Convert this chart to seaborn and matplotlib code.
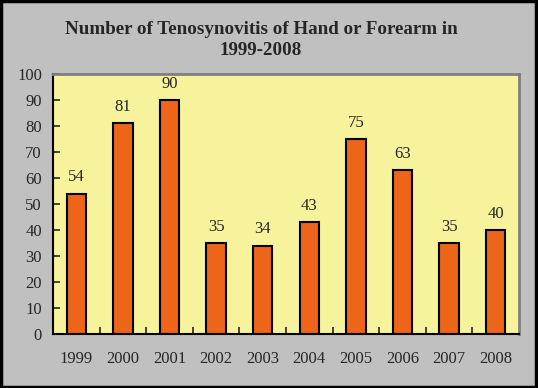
import pandas as pd
import matplotlib.pyplot as plt
import seaborn as sns

years = ['1999', '2000', '2001', '2002', '2003', '2004', '2005', '2006', '2007', '2008']
cases = [54, 81, 90, 35, 34, 43, 75, 63, 35, 40]

BG = '#C0C0C0'
PLOT_BG = '#F6F39C'
BAR = '#EC6519'


def main():
    sns.set_style('white')
    plt.rcParams['font.family'] = ['Liberation Serif', 'DejaVu Serif']

    df = pd.DataFrame({'Year': years, 'Cases': cases})

    fig = plt.figure(figsize=(5.38, 3.88), dpi=100, facecolor=BG)
    ax = fig.add_axes([53 / 538, 1 - 334 / 388, 466 / 538, 260 / 388])
    ax.set_facecolor(PLOT_BG)

    sns.barplot(data=df, x='Year', y='Cases', color=BAR, width=0.42,
                edgecolor='black', linewidth=1.5, saturation=1, ax=ax)

    # value labels above each bar
    ax.bar_label(ax.containers[0], fmt='%d', padding=6, fontsize=12)

    ax.set_ylim(0, 100)
    ax.set_xlim(-0.5, len(years) - 0.5)
    ax.set_yticks(range(0, 101, 10))
    ax.set_xticks([i + 0.5 for i in range(len(years) - 1)], minor=True)
    ax.tick_params(axis='y', direction='in', length=5, width=1.2,
                   left=True, labelsize=12, pad=8)
    ax.tick_params(axis='x', which='major', length=0, labelsize=12, pad=12)
    ax.tick_params(axis='x', which='minor', direction='in', length=5,
                   width=1.2, bottom=True)
    ax.set_xlabel('')
    ax.set_ylabel('')

    for side in ['top', 'right']:
        ax.spines[side].set_color('#808080')
        ax.spines[side].set_linewidth(2)
    for side in ['left', 'bottom']:
        ax.spines[side].set_color('black')
        ax.spines[side].set_linewidth(1.5)

    fig.text(0.485, 1 - 40 / 388,
             'Number of Tenosynovitis of Hand or Forearm in\n1999-2008',
             ha='center', va='center', fontsize=13.7, fontweight='bold',
             linespacing=1.3)

    # black frame around the figure
    fig.patches.append(plt.Rectangle((0.002, 0.003), 0.994, 0.994,
                                     transform=fig.transFigure, fill=False,
                                     edgecolor='black', linewidth=2.5))

    fig.savefig('out.png', dpi=100, facecolor=BG)


if __name__ == "__main__":
    main()
